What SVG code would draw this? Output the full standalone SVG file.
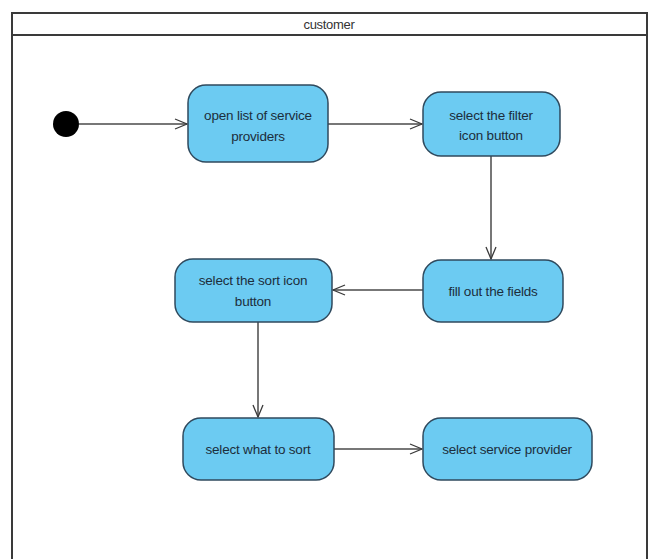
<svg xmlns="http://www.w3.org/2000/svg" width="649" height="559" viewBox="0 0 649 559">
<defs>
<marker id="open" viewBox="0 0 14 12" refX="13" refY="6" markerWidth="14" markerHeight="12" markerUnits="userSpaceOnUse" orient="auto">
<path d="M1,1 L13,6 L1,11" fill="none" stroke="#3a3a3a" stroke-width="1.3"/>
</marker>
</defs>
<style>
.frame{fill:#ffffff;stroke:#3a3a3a;stroke-width:2}
.act{fill:#6ccbf2;stroke:#2f4a5e;stroke-width:1.5}
.lbl{font-family:"Liberation Sans",Arial,sans-serif;font-size:13.5px;fill:#1c2e3c;text-anchor:middle;letter-spacing:-0.2px}
.hdr{font-family:"Liberation Sans",Arial,sans-serif;font-size:13px;fill:#333;text-anchor:middle;letter-spacing:-0.3px}
.conn{fill:none;stroke:#4a4a4a;stroke-width:1.5;marker-end:url(#open)}
</style>
<rect width="649" height="559" fill="#ffffff"/>
<g id="swimlane">
<rect class="frame" x="12" y="13" width="635" height="560"/>
<line x1="12" y1="35" x2="647" y2="35" stroke="#3a3a3a" stroke-width="2"/>
<text class="hdr" x="329" y="29">customer</text>
</g>
<g id="connectors">
<line class="conn" x1="79" y1="124" x2="187" y2="124"/>
<line class="conn" x1="328" y1="124" x2="422" y2="124"/>
<line class="conn" x1="491" y1="156" x2="491" y2="259"/>
<line class="conn" x1="423" y1="290" x2="333" y2="290"/>
<line class="conn" x1="258" y1="322" x2="258" y2="417"/>
<line class="conn" x1="334" y1="449" x2="422" y2="449"/>
</g>
<g id="start">
<circle cx="66" cy="124" r="13" fill="#000"/>
</g>
<g id="n1">
<rect class="act" x="188" y="85" width="140" height="77" rx="18"/>
<text class="lbl" x="258" y="120">open list of service</text>
<text class="lbl" x="258" y="141">providers</text>
</g>
<g id="n2">
<rect class="act" x="423" y="92" width="137" height="64" rx="18"/>
<text class="lbl" x="491" y="120">select the filter</text>
<text class="lbl" x="491" y="140">icon button</text>
</g>
<g id="n3">
<rect class="act" x="423" y="260" width="140" height="62" rx="18"/>
<text class="lbl" x="493" y="296">fill out the fields</text>
</g>
<g id="n4">
<rect class="act" x="175" y="259" width="157" height="63" rx="18"/>
<text class="lbl" x="253" y="285">select the sort icon</text>
<text class="lbl" x="253" y="306">button</text>
</g>
<g id="n5">
<rect class="act" x="183" y="418" width="151" height="62" rx="18"/>
<text class="lbl" x="258" y="454">select what to sort</text>
</g>
<g id="n6">
<rect class="act" x="423" y="418" width="169" height="62" rx="18"/>
<text class="lbl" x="507" y="454">select service provider</text>
</g>
</svg>
